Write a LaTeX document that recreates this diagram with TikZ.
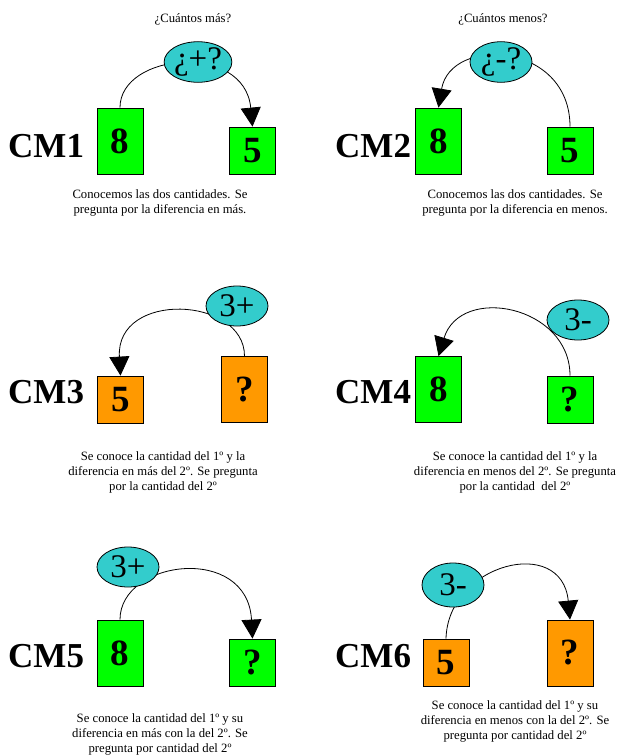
\documentclass[tikz,border=0pt]{standalone}
\usepackage{fontspec}
\setmainfont{Liberation Serif}
\usetikzlibrary{shapes.geometric,arrows.meta}
\definecolor{boxgreen}{HTML}{00FF00}
\definecolor{boxorange}{HTML}{FF9900}
\definecolor{ellcyan}{HTML}{33CCCC}
\tikzset{
  qbox/.style={draw, line width=0.8pt, inner sep=0pt, minimum width=46pt, font=\bfseries\fontsize{37}{37}\selectfont},
  tallbox/.style={qbox, minimum height=66pt},
  shortbox/.style={qbox, minimum height=47pt},
  grn/.style={fill=boxgreen},
  org/.style={fill=boxorange},
  diffell/.style={ellipse, draw, line width=0.8pt, fill=ellcyan, minimum width=62pt, minimum height=40pt, inner sep=0pt, font=\fontsize{33}{33}\selectfont},
  cmlabel/.style={anchor=base west, inner sep=0pt, font=\bfseries\fontsize{35}{35}\selectfont},
  captxt/.style={align=center, inner sep=0pt, font=\fontsize{12.7}{15}\selectfont},
  arc/.style={line width=0.8pt, -{Triangle[length=19pt,width=20pt]}}
}
\begin{document}
\begin{tikzpicture}[x=1pt,y=-1pt]
\useasboundingbox[fill=white] (0,0) rectangle (621,755);

% ---------- CM1 ----------
\node[captxt] (t1) at (193,19) {¿Cuántos más?};
\node[cmlabel] (cm1) at (8,157) {CM1};
\node[tallbox,grn] (a1) at (120,141) {8};
\node[shortbox,grn] (b1) at (252.5,150.5) {5};
\draw[arc] (a1.north) .. controls +(0,-55) and +(-8,-85) .. (b1.north);
\node[diffell] (e1) at (198,62) {¿+?};
\node[captxt] (c1) at (160,202.5) {Conocemos las dos cantidades. Se\\pregunta por la diferencia en más.};

% ---------- CM2 ----------
\node[captxt] (t2) at (503,19) {¿Cuántos menos?};
\node[cmlabel] (cm2) at (335,157) {CM2};
\node[tallbox,grn] (a2) at (438.5,141) {8};
\node[shortbox,grn] (b2) at (570,150.5) {5};
\draw[arc] (b2.north) .. controls +(0,-85) and +(12,-72) .. (a2.north);
\node[diffell] (e2) at (501,62) {¿-?};
\node[captxt] (c2) at (515,202.5) {Conocemos las dos cantidades. Se\\pregunta por la diferencia en menos.};

% ---------- CM3 ----------
\node[cmlabel] (cm3) at (8,403) {CM3};
\node[shortbox,org] (a3) at (120.5,399.5) {5};
\node[tallbox,org] (b3) at (244.5,389.5) {?};
\draw[arc] (b3.north) .. controls +(0,-60) and +(-5,-85) .. (a3.north);
\node[diffell] (e3) at (237,306) {3+};
\node[captxt] (c3) at (163,472) {Se conoce la cantidad del 1º y la\\diferencia en más del 2º. Se pregunta\\por la cantidad del 2º};

% ---------- CM4 ----------
\node[cmlabel] (cm4) at (335,403) {CM4};
\node[tallbox,grn] (a4) at (438.5,389.5) {8};
\node[shortbox,grn] (b4) at (570,399.5) {?};
\draw[arc] (b4.north) .. controls +(0,-70) and +(22,-72) .. (a4.north);
\node[diffell] (e4) at (578,320) {3-};
\node[captxt] (c4) at (515,472) {Se conoce la cantidad del 1º y la\\diferencia en menos del 2º. Se pregunta\\por la cantidad~ del 2º};

% ---------- CM5 ----------
\node[cmlabel] (cm5) at (8,667) {CM5};
\node[tallbox,grn] (a5) at (120,653) {8};
\node[shortbox,grn] (b5) at (252.5,662.5) {?};
\draw[arc] (a5.north) .. controls +(0,-60) and +(-5,-95) .. (b5.north);
\node[diffell] (e5) at (128,567) {3+};
\node[captxt] (c5) at (160,734) {Se conoce la cantidad del 1º y su\\diferencia en más con la del 2º. Se\\pregunta por cantidad del 2º};

% ---------- CM6 ----------
\node[cmlabel] (cm6) at (335,667) {CM6};
\node[shortbox,org] (a6) at (446,662.5) {5};
\node[tallbox,org] (b6) at (570,653) {?};
\draw[arc] (a6.north) .. controls +(2,-75) and +(-8,-85) .. (b6.north);
\node[diffell, minimum height=44pt] (e6) at (453,585) {3-};
\node[captxt] (c6) at (515,721) {Se conoce la cantidad del 1º y su\\diferencia en menos con la del 2º. Se\\pregunta por cantidad del 2º};
\end{tikzpicture}
\end{document}
